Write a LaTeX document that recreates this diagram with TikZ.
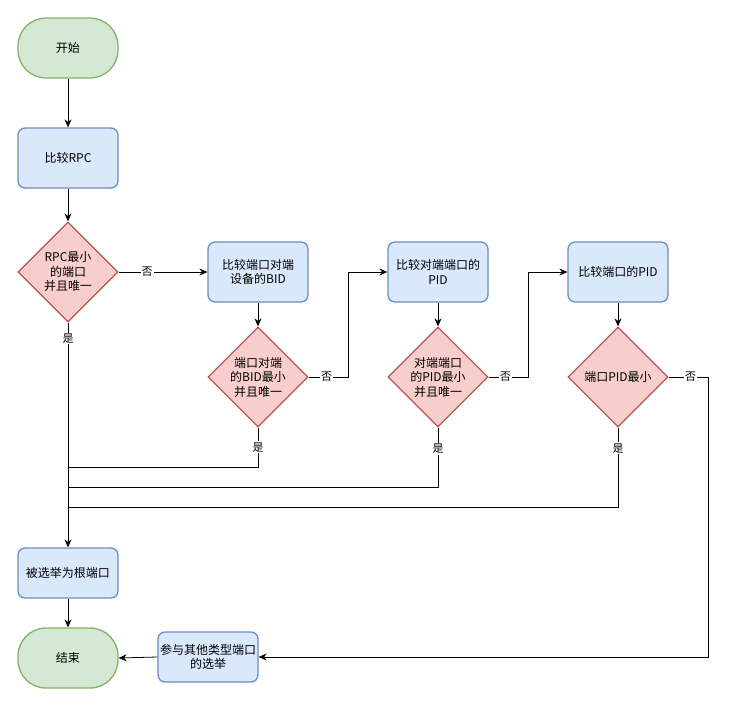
\documentclass[tikz,border=0pt]{standalone}
\usepackage{fontspec}
\setmainfont{Noto Sans CJK SC}
\usetikzlibrary{shapes.geometric,arrows.meta}
\definecolor{gfill}{HTML}{D5E8D4}\definecolor{gdraw}{HTML}{82B366}
\definecolor{bfill}{HTML}{DAE8FC}\definecolor{bdraw}{HTML}{6C8EBF}
\definecolor{rfill}{HTML}{F8CECC}\definecolor{rdraw}{HTML}{B85450}
\begin{document}
\begin{tikzpicture}[x=1pt,y=-1pt,
  every node/.style={font=\fontsize{12}{14.5}\selectfont},
  term/.style={draw=gdraw,fill=gfill,line width=1.3pt,rounded corners=28pt,minimum width=100pt,minimum height=60pt,inner sep=0pt},
  proc/.style={draw=bdraw,fill=bfill,line width=1.3pt,rounded corners=7pt,minimum width=100pt,minimum height=60pt,align=center,inner sep=0pt},
  dec/.style={diamond,draw=rdraw,fill=rfill,line width=1.3pt,minimum width=100pt,minimum height=100pt,inner sep=0pt},
  arr/.style={draw,line width=0.8pt,-{Stealth[length=8pt,width=7pt]}},
  ln/.style={draw,line width=0.8pt},
  lbl/.style={fill=white,inner sep=1pt,font=\fontsize{11}{12}\selectfont}]
\useasboundingbox (0,0) rectangle (732,705);
\node[term] (start) at (68,48) {开始};
\node[proc] (rpc) at (68,158) {比较RPC};
\node[dec,label={[align=center,name=d1t]center:RPC最小\\的端口\\并且唯一}] (d1) at (68,272) {};
\node[proc] (b2) at (258,272) {比较端口对端\\设备的BID};
\node[dec,label={[align=center,name=d2t]center:端口对端\\的BID最小\\并且唯一}] (d2) at (258,377) {};
\node[proc] (b3) at (438,272) {比较对端端口的\\PID};
\node[dec,label={[align=center,name=d3t]center:对端端口\\的PID最小\\并且唯一}] (d3) at (438,377) {};
\node[proc] (b4) at (618,272) {比较端口的PID};
\node[dec,label={[align=center,name=d4t]center:端口PID最小}] (d4) at (618,377) {};
\node[proc,minimum height=50pt] (b5) at (68,573) {被选举为根端口};
\node[term] (end) at (68,658) {结束};
\node[proc,minimum height=50pt] (b6) at (208,657) {参与其他类型端口\\的选举};
\coordinate (j1) at (68,467);
\coordinate (j2) at (68,487);
\coordinate (j3) at (68,507);
\draw[arr] (start) -- (rpc);
\draw[arr] (rpc) -- (d1);
\draw[arr] (d1.east) -- node[lbl,pos=0.32]{否} (b2.west);
\draw[arr] (d1.south) -- node[lbl,pos=0.07]{是} (b5.north);
\draw[arr] (b2) -- (d2);
\draw[arr] (d2.east) -- node[lbl,pos=0.45]{否} ++(40,0) |- (b3.west);
\draw[ln] (d2.south) |- node[lbl,pos=0.25]{是} (j1);
\draw[arr] (b3) -- (d3);
\draw[arr] (d3.east) -- node[lbl,pos=0.42]{否} ++(40,0) |- (b4.west);
\draw[ln] (d3.south) |- node[lbl,pos=0.18]{是} (j2);
\draw[arr] (b4) -- (d4);
\draw[arr] (d4.east) -- node[lbl,pos=0.55]{否} ++(40,0) |- (b6.east);
\draw[ln] (d4.south) |- node[lbl,pos=0.13]{是} (j3);
\draw[arr] (b5) -- (end);
\draw[arr] (b6.west) -- (end.east);
\end{tikzpicture}
\end{document}
